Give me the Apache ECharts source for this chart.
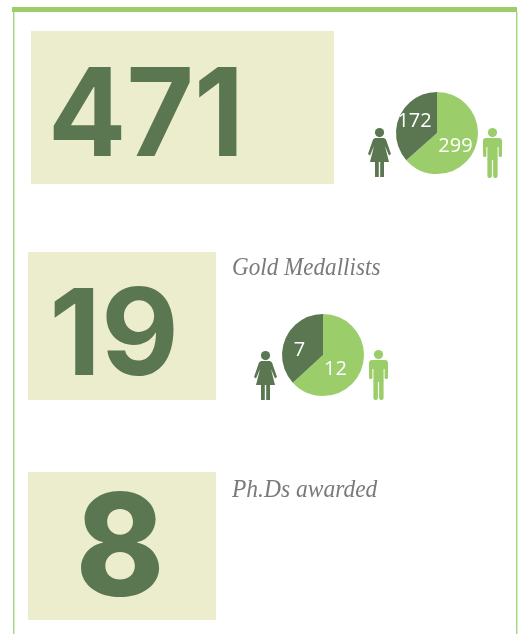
<!DOCTYPE html>
<html>
<head>
<meta charset="utf-8">
<style>
html, body { margin: 0; padding: 0; background: #fff; }
#chart { width: 520px; height: 634px; }
</style>
<script src="https://cdn.jsdelivr.net/npm/echarts@6/dist/echarts.min.js"></script>
</head>
<body>
<div id="chart"></div>
<script>
// totals shown in the big boxes
const totals = ["471", "19", "8"];
const captions = ["Gold Medallists", "Ph.Ds awarded"];
// split by gender
const genders = ["Men", "Women"];
const graduates = [299, 172];
const medallists = [12, 7];

const DARK = "#5b7751";
const LIGHT = "#9bce6a";
const BOX = "#ebedcd";

const chart = echarts.init(document.getElementById("chart"), null, { renderer: "canvas" });

function rect(x, y, width, height, fill) {
    return { type: "rect", shape: { x, y, width, height }, style: { fill } };
}

function bigText(text, x, baseline, fontSize, weight, scaleX) {
    return {
        type: "text",
        x,
        y: baseline,
        scaleX,
        style: {
            text,
            fill: DARK,
            font: weight + " " + fontSize + "px 'Inter'",
            align: "center",
            verticalAlign: "bottom",
        },
    };
}

function caption(text, x, y, scaleX) {
    return {
        type: "text",
        x,
        y,
        scaleX,
        style: {
            text,
            fill: "#7a7a7a",
            font: "italic 25px 'Liberation Serif'",
            align: "left",
            verticalAlign: "middle",
        },
    };
}

function woman(x, y) {
    return {
        type: "group",
        x,
        y,
        children: [
            { type: "circle", shape: { cx: 11.5, cy: 4.6, r: 4.6 }, style: { fill: DARK } },
            {
                type: "polygon",
                shape: {
                    points: [[7, 10], [16, 10], [18, 11.5], [23, 26], [21, 27.5], [17, 18], [21, 34], [2, 34], [6, 18], [2, 27.5], [0, 26], [5, 11.5]],
                },
                style: { fill: DARK },
            },
            rect(7, 34, 3.8, 15, DARK),
            rect(12.2, 34, 3.8, 15, DARK),
        ],
    };
}

function man(x, y) {
    return {
        type: "group",
        x,
        y,
        children: [
            { type: "circle", shape: { cx: 9.5, cy: 4.6, r: 4.6 }, style: { fill: LIGHT } },
            { type: "rect", shape: { x: 0, y: 10, width: 19, height: 9, r: [3, 3, 0, 0] }, style: { fill: LIGHT } },
            { type: "rect", shape: { x: 0, y: 15, width: 3.4, height: 14, r: 1.5 }, style: { fill: LIGHT } },
            { type: "rect", shape: { x: 15.6, y: 15, width: 3.4, height: 14, r: 1.5 }, style: { fill: LIGHT } },
            rect(4.4, 15, 10.2, 17, LIGHT),
            { type: "rect", shape: { x: 4.4, y: 30, width: 4.5, height: 20, r: 2 }, style: { fill: LIGHT } },
            { type: "rect", shape: { x: 10.1, y: 30, width: 4.5, height: 20, r: 2 }, style: { fill: LIGHT } },
        ],
    };
}

function genderPie(values, center, shifts) {
    return {
        type: "pie",
        silent: true,
        radius: [0, 41],
        center,
        startAngle: 90,
        clockwise: true,
        animation: false,
        labelLine: { show: false },
        label: {
            show: true,
            position: "inside",
            formatter: "{c}",
            color: "#fff",
            fontFamily: "Open Sans",
            fontSize: 20,
        },
        labelLayout: (params) => ({ dx: shifts[params.dataIndex][0], dy: shifts[params.dataIndex][1] }),
        data: genders.map((name, i) => ({
            name,
            value: values[i],
            itemStyle: { color: i === 0 ? LIGHT : DARK },
        })),
    };
}

chart.setOption({
    animation: false,
    backgroundColor: "#fff",
    graphic: [
        rect(12, 7, 505, 5, "#9ccd69"),
        rect(13, 12, 1.5, 622, "#aad684"),
        rect(516, 12, 1.5, 622, "#aad684"),
        rect(31, 31, 303, 153, BOX),
        rect(28, 252, 188, 148, BOX),
        rect(28, 472, 188, 148, BOX),
        bigText(totals[0], 146, 180, 122, 700, 0.95),
        bigText(totals[1], 114, 399, 120, 700, 1),
        bigText(totals[2], 120, 624, 142, 800, 0.94),
        caption(captions[0], 232, 268, 0.925),
        caption(captions[1], 232, 490, 0.94),
        woman(368, 128),
        man(483, 128),
        woman(254, 351),
        man(369, 350),
    ],
    series: [
        genderPie(graduates, [437, 133], [[-3, 4], [-1, -2]]),
        genderPie(medallists, [323, 355], [[-9, 5], [-2, 5]]),
    ],
});
</script>
</body>
</html>
